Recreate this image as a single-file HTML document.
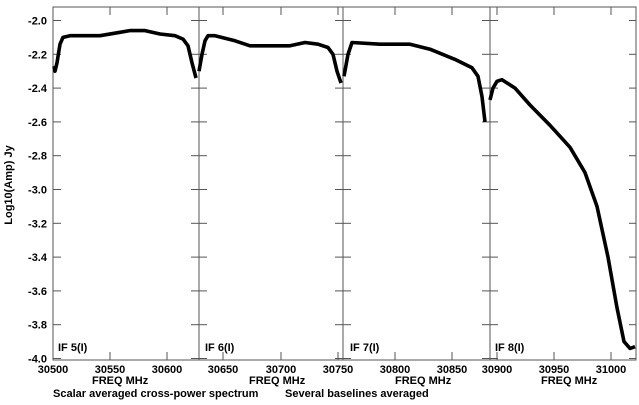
<!DOCTYPE html><html><head><style>body{margin:0;background:#fff}svg{display:block}text{font-family:"Liberation Sans",Arial,sans-serif;font-weight:bold;font-size:11px;fill:#000}</style></head><body>
<svg id="s" width="639" height="405" xmlns="http://www.w3.org/2000/svg">
<g stroke="#555" stroke-width="1" fill="none" id="ax"><rect x="53" y="7" width="583" height="353"/></g>
<g id="tx"></g>
<path id="c" fill="none" stroke="#000" stroke-width="3.6" stroke-linejoin="round"/>
<text x="12" y="185" transform="rotate(-90 12 185)" text-anchor="middle" font-size="11">Log10(Amp) Jy</text>
<text x="58" y="351">IF 5(I)</text><text x="205" y="351">IF 6(I)</text><text x="350" y="351">IF 7(I)</text><text x="495" y="351">IF 8(I)</text>
<text x="92" y="384">FREQ MHz</text><text x="249" y="384">FREQ MHz</text><text x="395" y="384">FREQ MHz</text><text x="541" y="384">FREQ MHz</text>
<text x="53" y="397">Scalar averaged cross-power spectrum</text><text x="285" y="397">Several baselines averaged</text>
</svg>
<script>
var ns="http://www.w3.org/2000/svg",ax=document.getElementById('ax'),tx=document.getElementById('tx');
function Y(v){return 20.5+(-2-v)*169}
function ln(a,b,c,d){var l=document.createElementNS(ns,'line');l.setAttribute('x1',a);l.setAttribute('y1',b);l.setAttribute('x2',c);l.setAttribute('y2',d);ax.appendChild(l)}
function t(x,y,s,anc){var e=document.createElementNS(ns,'text');e.setAttribute('x',x);e.setAttribute('y',y);e.setAttribute('text-anchor',anc);e.textContent=s;tx.appendChild(e)}
[199,343,490].forEach(function(x){ln(x,7,x,360)});
for(var i=0;i<=10;i++){var v=-2-0.2*i,y=Y(v);t(47,y+4,v.toFixed(1),'end');ln(53,y,61,y);ln(629,y,636,y);[199,343,490].forEach(function(x){ln(x-8,y,x+8,y)})}
var xt=[[53,'30500'],[110,'30550'],[167,'30600'],[223,'30650'],[281,'30700'],[338,'30750'],[395,'30800'],[452,'30850'],[497,'30900'],[554,'30950'],[611,'31000']];
xt.forEach(function(p){ln(p[0],360,p[0],352);ln(p[0],7,p[0],15);t(p[0],373,p[1],'middle')});
var segs=[
[[54,-2.27],[55,-2.3],[57,-2.25],[60,-2.14],[63,-2.1],[70,-2.09],[100,-2.09],[120,-2.07],[130,-2.06],[145,-2.06],[160,-2.08],[175,-2.09],[183,-2.11],[188,-2.15],[192,-2.25],[196,-2.34]],
[[199,-2.3],[202,-2.2],[205,-2.12],[208,-2.09],[215,-2.09],[235,-2.12],[250,-2.15],[290,-2.15],[305,-2.13],[318,-2.14],[328,-2.16],[333,-2.2],[337,-2.3],[341,-2.37]],
[[344,-2.33],[348,-2.2],[352,-2.13],[380,-2.14],[410,-2.14],[430,-2.17],[455,-2.23],[472,-2.28],[478,-2.33],[482,-2.45],[485,-2.6]],
[[490,-2.47],[493,-2.4],[497,-2.36],[502,-2.35],[515,-2.4],[530,-2.5],[550,-2.62],[570,-2.75],[585,-2.9],[597,-3.1],[608,-3.4],[617,-3.7],[624,-3.9],[630,-3.94],[635,-3.93]]];
var d='';segs.forEach(function(s){s.forEach(function(p,i){d+=(i?'L':'M')+p[0]+','+Y(p[1]).toFixed(1)})});
document.getElementById('c').setAttribute('d',d);
</script></body></html>
